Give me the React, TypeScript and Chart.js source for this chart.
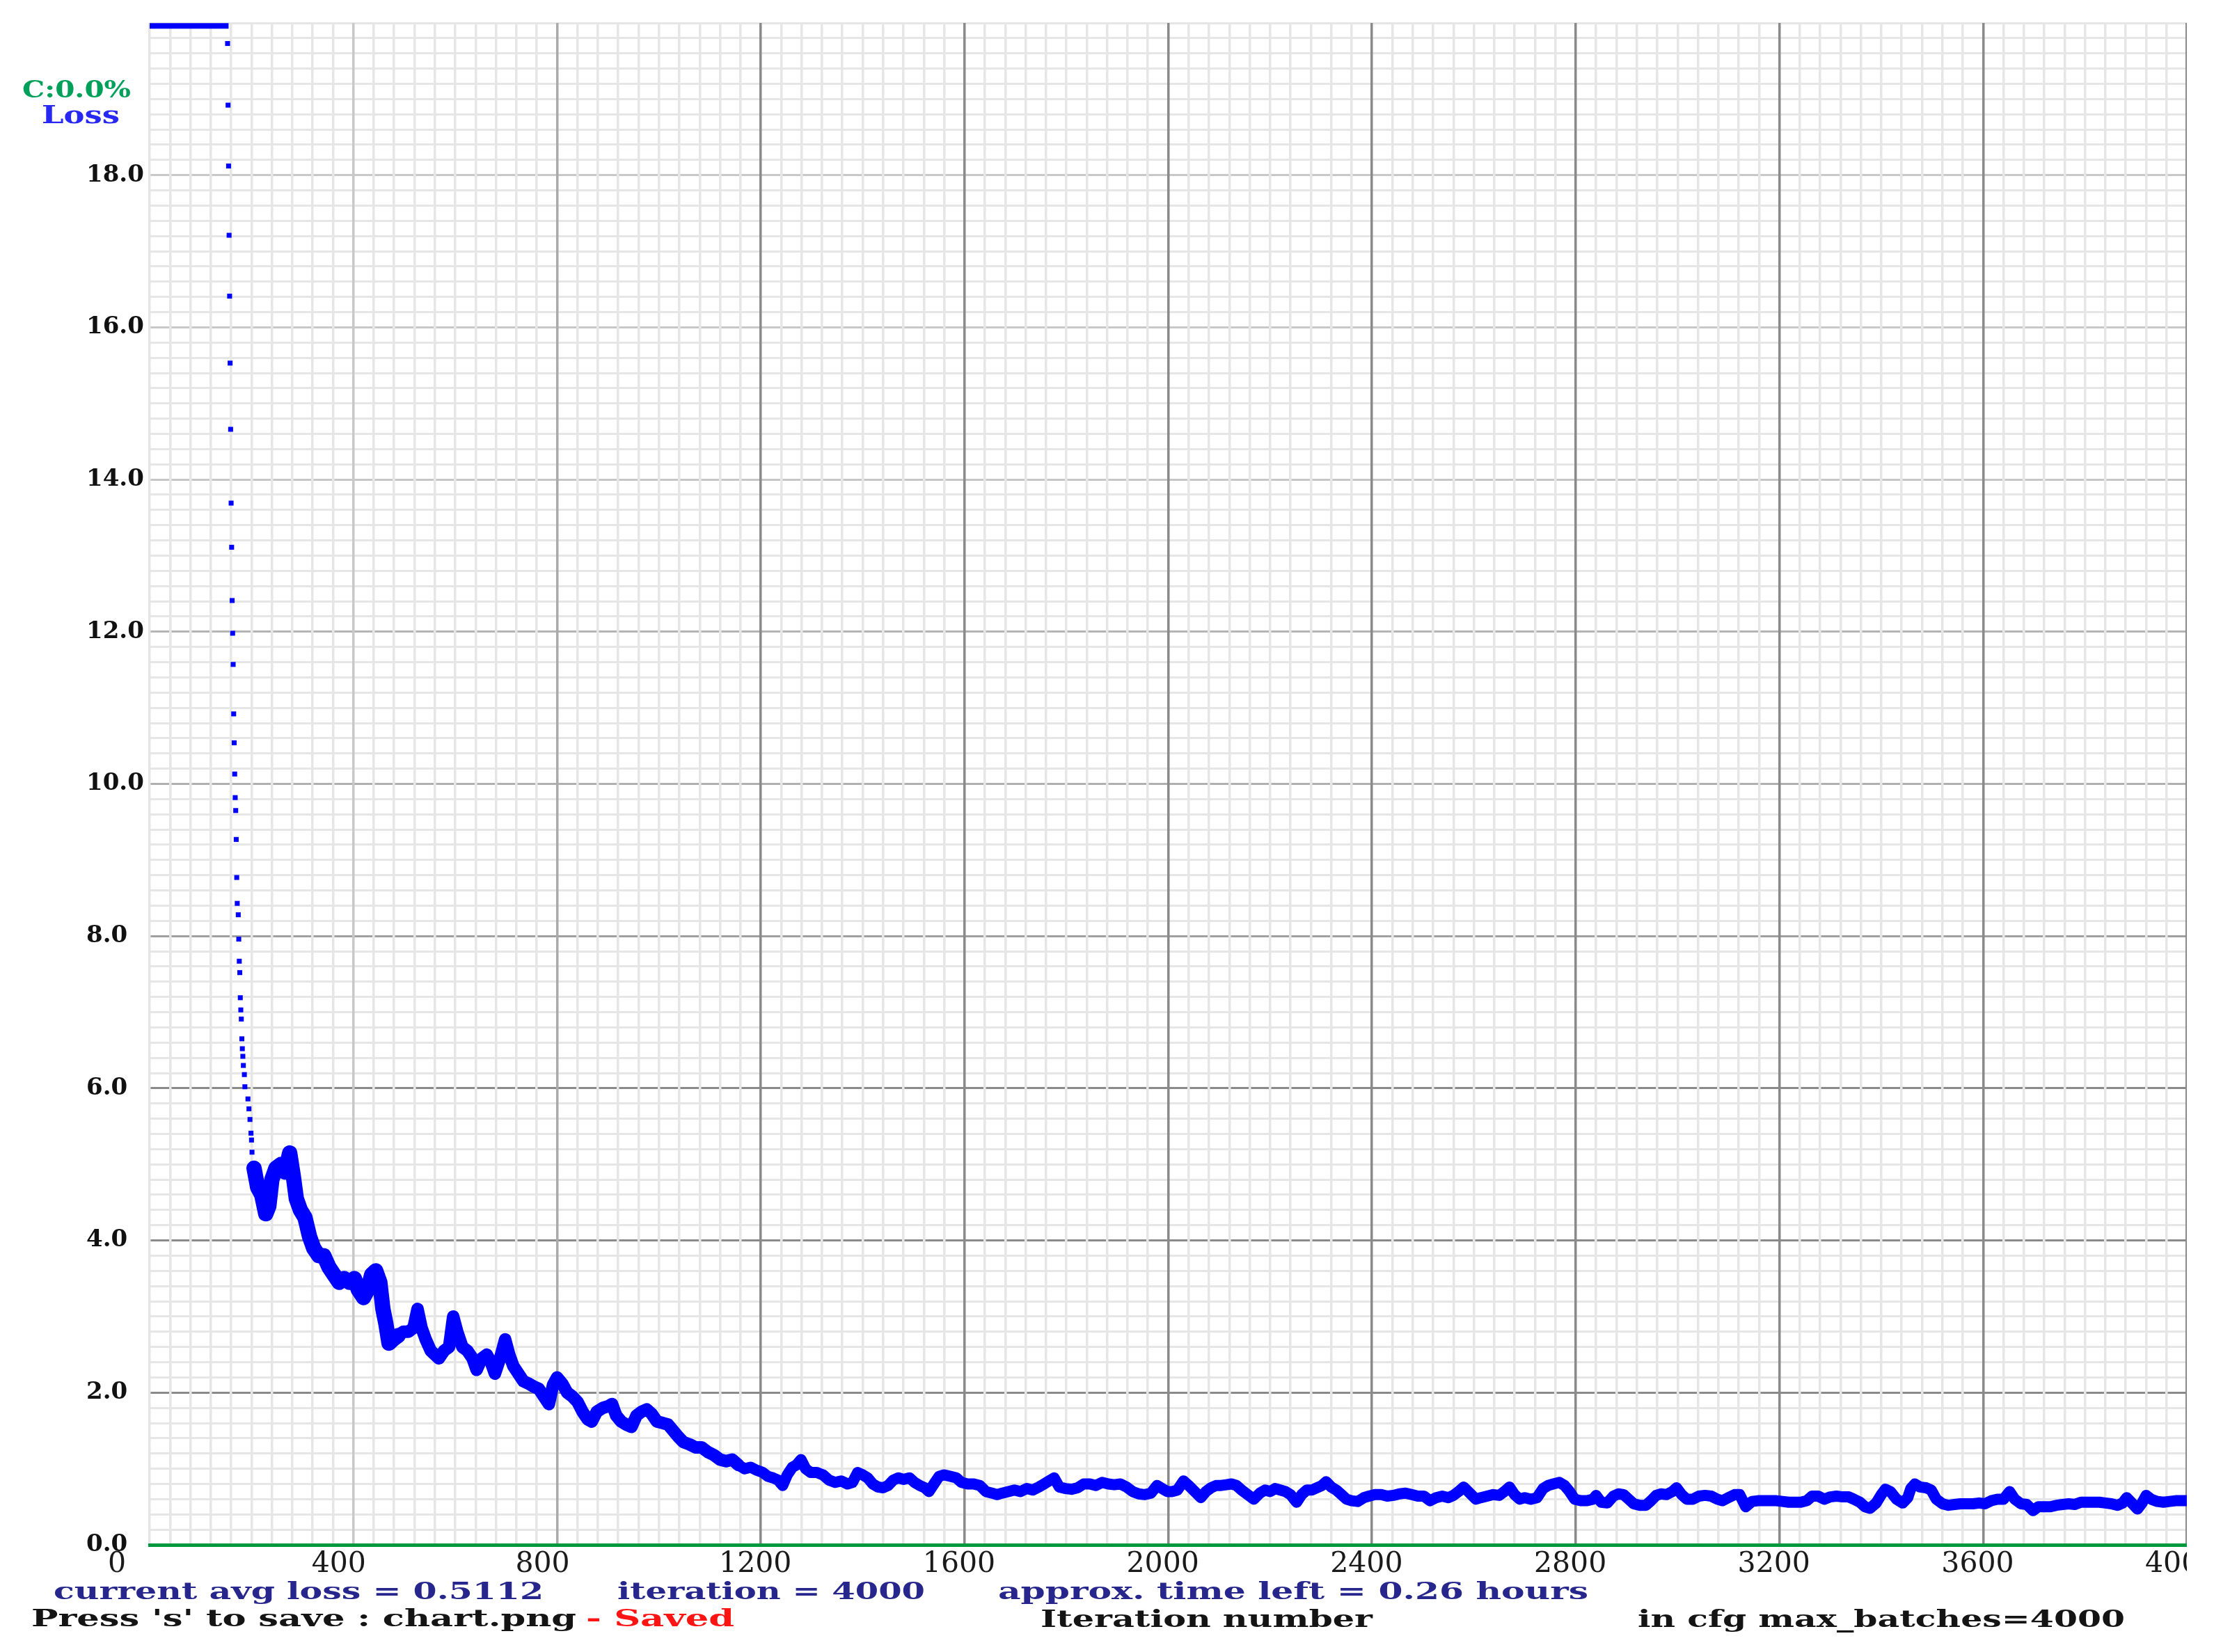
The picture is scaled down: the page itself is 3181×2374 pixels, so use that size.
import React, { useEffect, useRef } from 'react';
import { Chart, registerables } from 'chart.js';

Chart.register(...registerables);

// ---- axis ranges and tick spacing ----
const X_MAX = 4000;
const Y_MAX = 20;
const xTickStep = 40; // 100 grid lines
const yTickStep = 0.2; // 100 grid lines

// ---- loss values clipped at the top of the chart (iterations 0..155) ----
const topIter = [0, 155];
const topLoss = [19.96, 19.96];

// ---- individual dots of the steep initial drop ----
const dropIter = [153, 154, 155, 156, 157, 158, 159, 160, 161, 162, 163, 164, 165, 166, 167, 168, 169, 170, 171, 172, 174, 175, 176, 177, 178, 179, 180, 181, 182, 183, 184, 186, 187, 193, 195, 197, 199, 200, 201, 203, 204];
const dropLoss = [19.73, 18.92, 18.12, 17.21, 16.41, 15.53, 14.66, 13.69, 13.11, 12.41, 11.98, 11.57, 10.92, 10.54, 10.13, 9.82, 9.65, 9.27, 8.77, 8.43, 8.28, 7.96, 7.67, 7.52, 7.19, 7.03, 6.91, 6.65, 6.52, 6.42, 6.30, 6.18, 6.02, 5.86, 5.73, 5.59, 5.41, 5.32, 5.16, 5.0, 4.88];

// ---- average loss band, iteration 205..4000 ----
const bandIter = [205, 212, 220, 228, 234, 240, 248, 258, 266, 275, 282, 288, 296, 305, 314, 322, 332, 342, 352, 362, 372, 382, 392, 402, 410, 420, 428, 436, 444, 452, 458, 464, 470, 478, 488, 498, 508, 518, 526, 534, 542, 552, 560, 568, 578, 588, 596, 604, 614, 624, 634, 642, 652, 662, 670, 678, 688, 698, 706, 714, 724, 734, 744, 754, 764, 774, 784, 792, 800, 810, 820, 830, 840, 850, 860, 868, 878, 890, 900, 908, 916, 926, 936, 946, 956, 966, 976, 986, 996, 1008, 1018, 1028, 1038, 1048, 1060, 1072, 1084, 1096, 1108, 1120, 1132, 1144, 1156, 1168, 1180, 1192, 1204, 1214, 1224, 1234, 1243, 1252, 1262, 1270, 1279, 1288, 1298, 1310, 1322, 1334, 1346, 1358, 1370, 1380, 1390, 1400, 1410, 1420, 1430, 1440, 1450, 1460, 1470, 1480, 1492, 1502, 1512, 1522, 1530, 1540, 1550, 1560, 1572, 1584, 1594, 1606, 1618, 1630, 1642, 1654, 1664, 1674, 1686, 1698, 1710, 1722, 1734, 1746, 1756, 1766, 1776, 1786, 1798, 1810, 1822, 1834, 1846, 1858, 1870, 1882, 1894, 1906, 1918, 1930, 1942, 1954, 1966, 1978, 1988, 1998, 2008, 2018, 2030, 2040, 2052, 2064, 2074, 2084, 2094, 2104, 2114, 2124, 2134, 2144, 2156, 2168, 2180, 2190, 2200, 2210, 2220, 2230, 2240, 2252, 2262, 2272, 2282, 2292, 2302, 2310, 2320, 2330, 2340, 2350, 2360, 2372, 2384, 2394, 2406, 2418, 2430, 2442, 2454, 2466, 2478, 2490, 2502, 2514, 2526, 2538, 2550, 2560, 2570, 2580, 2592, 2604, 2614, 2626, 2638, 2650, 2660, 2670, 2680, 2690, 2700, 2712, 2724, 2736, 2746, 2756, 2768, 2778, 2788, 2798, 2810, 2822, 2834, 2840, 2850, 2862, 2874, 2884, 2894, 2904, 2914, 2926, 2938, 2948, 2958, 2968, 2978, 2990, 2998, 3008, 3018, 3030, 3042, 3054, 3066, 3078, 3088, 3100, 3112, 3122, 3134, 3146, 3158, 3170, 3182, 3194, 3206, 3218, 3230, 3242, 3254, 3264, 3276, 3288, 3300, 3312, 3324, 3336, 3346, 3358, 3368, 3378, 3390, 3400, 3408, 3418, 3430, 3442, 3452, 3458, 3466, 3476, 3488, 3498, 3508, 3520, 3532, 3544, 3556, 3568, 3580, 3592, 3604, 3616, 3628, 3640, 3652, 3662, 3674, 3686, 3698, 3708, 3720, 3732, 3744, 3756, 3768, 3780, 3792, 3804, 3816, 3828, 3840, 3852, 3864, 3874, 3882, 3892, 3903, 3912, 3920, 3930, 3942, 3954, 3966, 3978, 3990, 4000];
const bandLoss = [4.95, 4.7, 4.6, 4.35, 4.45, 4.8, 4.95, 5.0, 4.9, 5.15, 4.85, 4.55, 4.4, 4.3, 4.05, 3.9, 3.8, 3.8, 3.65, 3.55, 3.45, 3.5, 3.45, 3.5, 3.35, 3.25, 3.35, 3.55, 3.6, 3.45, 3.1, 2.9, 2.65, 2.7, 2.75, 2.8, 2.8, 2.85, 3.1, 2.85, 2.7, 2.55, 2.5, 2.45, 2.55, 2.6, 3.0, 2.8, 2.6, 2.55, 2.45, 2.3, 2.45, 2.5, 2.4, 2.25, 2.45, 2.7, 2.5, 2.35, 2.25, 2.15, 2.12, 2.08, 2.05, 1.95, 1.85, 2.1, 2.2, 2.12, 2.0, 1.95, 1.88, 1.75, 1.65, 1.62, 1.75, 1.8, 1.82, 1.85, 1.7, 1.62, 1.58, 1.55, 1.7, 1.75, 1.78, 1.72, 1.62, 1.6, 1.58, 1.5, 1.42, 1.35, 1.32, 1.28, 1.28, 1.22, 1.18, 1.12, 1.1, 1.12, 1.05, 1.0, 1.02, 0.98, 0.95, 0.9, 0.88, 0.85, 0.78, 0.92, 1.02, 1.05, 1.12, 1.0, 0.95, 0.95, 0.92, 0.85, 0.82, 0.84, 0.8, 0.82, 0.95, 0.92, 0.88, 0.8, 0.76, 0.75, 0.78, 0.85, 0.88, 0.86, 0.88, 0.82, 0.78, 0.75, 0.7, 0.8, 0.9, 0.92, 0.9, 0.88, 0.82, 0.8, 0.8, 0.78, 0.7, 0.68, 0.66, 0.68, 0.7, 0.72, 0.7, 0.74, 0.72, 0.76, 0.8, 0.84, 0.88, 0.76, 0.74, 0.73, 0.75, 0.8, 0.8, 0.78, 0.82, 0.8, 0.79, 0.8, 0.76, 0.7, 0.67, 0.66, 0.68, 0.78, 0.74, 0.7, 0.7, 0.72, 0.84, 0.78, 0.7, 0.62, 0.7, 0.75, 0.78, 0.78, 0.79, 0.8, 0.78, 0.72, 0.66, 0.6, 0.68, 0.72, 0.7, 0.74, 0.72, 0.7, 0.66, 0.56, 0.66, 0.72, 0.72, 0.75, 0.78, 0.83, 0.76, 0.72, 0.66, 0.6, 0.58, 0.57, 0.62, 0.64, 0.66, 0.66, 0.64, 0.65, 0.67, 0.68, 0.66, 0.64, 0.64, 0.58, 0.62, 0.64, 0.62, 0.65, 0.7, 0.76, 0.68, 0.6, 0.62, 0.64, 0.66, 0.65, 0.7, 0.76, 0.66, 0.6, 0.62, 0.6, 0.62, 0.74, 0.78, 0.8, 0.82, 0.78, 0.7, 0.6, 0.58, 0.58, 0.6, 0.65, 0.56, 0.55, 0.64, 0.67, 0.66, 0.6, 0.54, 0.52, 0.52, 0.58, 0.65, 0.67, 0.66, 0.7, 0.75, 0.66, 0.6, 0.6, 0.64, 0.65, 0.64, 0.6, 0.58, 0.62, 0.66, 0.66, 0.5, 0.57, 0.58, 0.58, 0.58, 0.58, 0.57, 0.56, 0.56, 0.56, 0.58, 0.64, 0.64, 0.6, 0.63, 0.64, 0.63, 0.63, 0.6, 0.56, 0.5, 0.48, 0.55, 0.66, 0.73, 0.7, 0.6, 0.55, 0.62, 0.74, 0.8, 0.76, 0.75, 0.72, 0.6, 0.54, 0.52, 0.53, 0.54, 0.54, 0.54, 0.55, 0.54, 0.58, 0.6, 0.6, 0.7, 0.6, 0.54, 0.53, 0.45, 0.5, 0.5, 0.5, 0.52, 0.53, 0.54, 0.53, 0.56, 0.56, 0.56, 0.56, 0.55, 0.54, 0.52, 0.55, 0.62, 0.55, 0.47, 0.55, 0.65, 0.6, 0.57, 0.56, 0.57, 0.58, 0.58, 0.58];

// ---- header / status texts ----
const mapText = 'C:0.0%';
const lossText = 'Loss';
const avgLossText = 'current avg loss = 0.5112';
const iterationText = 'iteration = 4000';
const timeLeftText = 'approx. time left = 0.26 hours';
const saveText = "Press 's' to save : chart.png";
const savedText = '- Saved';
const xTitleText = 'Iteration number';
const maxBatchesText = 'in cfg max_batches=4000';

const BLUE = 'rgb(0,0,255)';
const GRID_LIGHT = 'rgb(230,230,230)';
const GREEN_AXIS = 'rgb(0,152,62)';
// shade of the major (every 10th) grid lines, by major index
const Y_MAJOR_SHADE = ['rgb(138,138,138)', 'rgb(138,138,138)', 'rgb(138,138,138)', 'rgb(138,138,138)', 'rgb(160,160,160)', 'rgb(176,176,176)', 'rgb(180,180,180)', 'rgb(198,198,198)', 'rgb(200,200,200)', 'rgb(200,200,200)', GRID_LIGHT];
const X_MAJOR_SHADE = [GRID_LIGHT, 'rgb(200,200,200)', 'rgb(170,170,170)', 'rgb(138,138,138)', 'rgb(138,138,138)', 'rgb(138,138,138)', 'rgb(138,138,138)', 'rgb(138,138,138)', 'rgb(138,138,138)', 'rgb(138,138,138)', 'rgb(138,138,138)'];

type TextItem = { text: string; left: number; right: number; baseline: number; size: number; color: string; weight: string };

const textItems: TextItem[] = [
  { text: mapText, left: 32, right: 188, baseline: 140, size: 34, color: 'rgb(0,160,90)', weight: 'bold' },
  { text: lossText, left: 60, right: 172, baseline: 177, size: 36, color: 'rgb(40,40,245)', weight: 'bold' },
  { text: avgLossText, left: 77, right: 781, baseline: 2298, size: 34, color: 'rgb(38,38,140)', weight: 'bold' },
  { text: iterationText, left: 887, right: 1329, baseline: 2298, size: 34, color: 'rgb(38,38,140)', weight: 'bold' },
  { text: timeLeftText, left: 1434, right: 2282, baseline: 2298, size: 34, color: 'rgb(38,38,140)', weight: 'bold' },
  { text: saveText, left: 45, right: 828, baseline: 2337, size: 34, color: 'rgb(20,20,20)', weight: 'bold' },
  { text: savedText, left: 842, right: 1055, baseline: 2337, size: 34, color: 'rgb(255,20,20)', weight: 'bold' },
  { text: xTitleText, left: 1495, right: 1972, baseline: 2338, size: 34, color: 'rgb(20,20,20)', weight: 'bold' },
  { text: maxBatchesText, left: 2353, right: 3053, baseline: 2338, size: 34, color: 'rgb(20,20,20)', weight: 'bold' },
];

const textPlugin = {
  id: 'darknetTexts',
  afterDraw(chart: any) {
    const ctx: CanvasRenderingContext2D = chart.ctx;
    for (const t of textItems) {
      ctx.save();
      ctx.font = `${t.weight} ${t.size}px "DejaVu Serif"`;
      ctx.fillStyle = t.color;
      ctx.textBaseline = 'alphabetic';
      ctx.textAlign = 'left';
      const w = ctx.measureText(t.text).width;
      ctx.translate(t.left, t.baseline);
      ctx.scale((t.right - t.left) / w, 1);
      ctx.fillText(t.text, 0, 0);
      ctx.restore();
    }
  },
};

export default function App() {
  const canvasRef = useRef<HTMLCanvasElement | null>(null);

  useEffect(() => {
    const canvas = canvasRef.current;
    if (!canvas) return;

    const topData = topIter.map((x, i) => ({ x, y: topLoss[i] }));
    const dropData = dropIter.map((x, i) => ({ x, y: dropLoss[i] }));
    const bandData = bandIter.map((x, i) => ({ x, y: bandLoss[i] }));

    const chart = new Chart(canvas, {
      type: 'scatter',
      data: {
        datasets: [
          {
            type: 'line',
            data: topData,
            borderColor: BLUE,
            borderWidth: 8,
            pointRadius: 0,
            showLine: true,
          } as any,
          {
            type: 'scatter',
            data: dropData,
            backgroundColor: BLUE,
            borderWidth: 0,
            pointStyle: 'rect',
            pointRadius: 5,
          } as any,
          {
            type: 'line',
            data: bandData,
            borderColor: BLUE,
            borderWidth: 16,
            borderJoinStyle: 'round',
            borderCapStyle: 'round',
            pointRadius: 0,
            showLine: true,
            segment: {
              borderWidth: (c: any) => {
                const x = c.p0.parsed.x;
                return x < 480 ? 22 : x < 1150 ? 18 : 16;
              },
            },
          } as any,
        ],
      },
      options: {
        animation: false,
        responsive: false,
        devicePixelRatio: 1,
        layout: { padding: { left: 124, top: 33, right: 0, bottom: 94 } },
        plugins: { legend: { display: false }, tooltip: { enabled: false }, title: { display: false } },
        scales: {
          y: {
            type: 'linear',
            min: 0,
            max: Y_MAX,
            border: { display: false },
            grid: {
              drawTicks: false,
              color: (c: any) => (c.index % 10 === 0 ? Y_MAJOR_SHADE[c.index / 10] : GRID_LIGHT),
              lineWidth: 3,
            },
            ticks: {
              stepSize: yTickStep,
              maxTicksLimit: 1000,
              autoSkip: false,
              crossAlign: 'far',
              padding: 0,
              color: '#111',
              font: { family: 'DejaVu Serif', size: 34, weight: 'bold' },
              callback: (v: any, i: number) => (i % 10 === 0 && i !== 100 ? Number(v).toFixed(1) : ''),
            },
            afterFit: (s: any) => {
              s.width = 91;
              s.paddingTop = 0;
              s.paddingBottom = 0;
            },
          },
          x: {
            type: 'linear',
            min: 0,
            max: X_MAX,
            border: { display: true, color: GREEN_AXIS, width: 5 },
            grid: {
              drawTicks: false,
              color: (c: any) => (c.index % 10 === 0 ? X_MAJOR_SHADE[c.index / 10] : GRID_LIGHT),
              lineWidth: 3.5,
            },
            ticks: {
              stepSize: xTickStep,
              maxTicksLimit: 1000,
              autoSkip: false,
              maxRotation: 0,
              minRotation: 0,
              align: 'start',
              labelOffset: -60,
              padding: 4,
              color: '#1a1a1a',
              font: { family: 'DejaVu Serif', size: 41 },
              callback: (v: any, i: number) => (i % 10 === 0 ? String(Math.round(Number(v))) : ''),
            },
            afterFit: (s: any) => {
              s.height = 60;
              s.paddingLeft = 0;
              s.paddingRight = 0;
            },
          },
        },
      } as any,
      plugins: [textPlugin],
    });

    return () => chart.destroy();
  }, []);

  return (
    <div style={{ position: 'fixed', left: 0, top: 0, width: 3181, height: 2374, background: '#fff' }}>
      <div style={{ width: 3142, height: 2374, overflow: 'hidden' }}>
        <canvas ref={canvasRef} width={3147} height={2374} style={{ display: 'block', width: 3147, height: 2374 }} />
      </div>
    </div>
  );
}
